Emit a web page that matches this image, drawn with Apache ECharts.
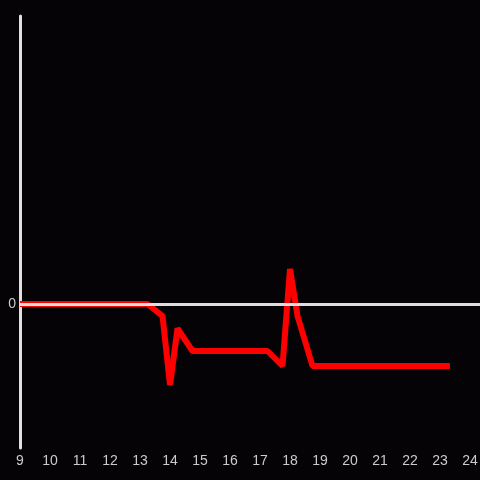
<!DOCTYPE html>
<html>
<head>
<meta charset="utf-8">
<script src="https://cdn.jsdelivr.net/npm/echarts@6/dist/echarts.min.js"></script>
<style>
  html, body { margin: 0; padding: 0; background: #050305; }
  #main { width: 480px; height: 480px; }
</style>
</head>
<body>
<div id="main"></div>
<script>
// hour of day and value
var hours = [9, 13.25, 13.75, 14, 14.25, 14.75, 17.25, 17.75, 18, 18.25, 18.75, 23.33];
var values = [0, 0, -1.2, -8.1, -2.45, -4.7, -4.7, -6.2, 3.5, -1.2, -6.2, -6.2];
var yLabels = [0];

var chart = echarts.init(document.getElementById("main"));
var data = [];
for (var i = 0; i < hours.length; i++) {
  data.push([hours[i], values[i]]);
}

chart.setOption({
  backgroundColor: "#050305",
  animation: false,
  grid: { left: 20, right: 0, top: 16, bottom: 32, outerBoundsMode: "none" },
  xAxis: {
    type: "value",
    min: 9,
    max: 24.333,
    interval: 1,
    axisLine: { show: false },
    axisTick: { show: false },
    splitLine: { show: false },
    axisLabel: {
      color: "#cccccc",
      fontSize: 14,
      fontFamily: "Liberation Sans, Arial, sans-serif",
      margin: 6,
      formatter: function (v) {
        return v <= 24 && Math.abs(v - Math.round(v)) < 1e-6 ? String(v) : "";
      }
    }
  },
  yAxis: {
    type: "value",
    min: -14.4,
    max: 28.8,
    axisLine: { show: true, onZero: false, lineStyle: { color: "#e0e0e0", width: 3 } },
    axisTick: { show: false },
    splitLine: { show: false },
    axisLabel: {
      color: "#cccccc",
      fontSize: 14,
      fontFamily: "Liberation Sans, Arial, sans-serif",
      margin: 4,
      verticalAlign: "middle",
      customValues: yLabels
    }
  },
  series: [
    {
      type: "line",
      data: data,
      symbol: "none",
      lineStyle: { color: "#ff0000", width: 6, join: "bevel", cap: "butt" },
      markLine: {
        silent: true,
        symbol: "none",
        label: { show: false },
        lineStyle: { color: "#dddddd", width: 3, type: "solid" },
        data: [{ yAxis: 0 }]
      },
      z: 3
    }
  ]
});
</script>
</body>
</html>
